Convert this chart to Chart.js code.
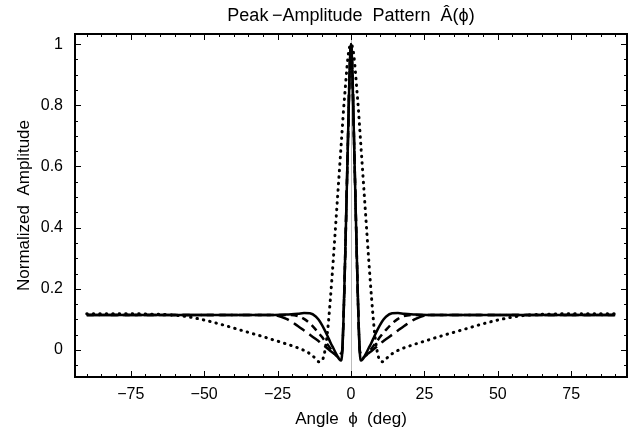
<!DOCTYPE html>
<html>
<head>
<meta charset="utf-8">
<script src="https://cdn.jsdelivr.net/npm/chart.js@4.4.1/dist/chart.umd.min.js"></script>
<style>
  body { margin: 0; background: #fff; }
  #wrap { width: 629px; height: 433px; }
</style>
</head>
<body>
<div id="wrap"><canvas id="chart" width="629" height="433"></canvas></div>
<script>
// angle samples (deg), denser near the main lobe
const angles = [-90, -80, -70, -60, -55, -50, -45, -40, -35, -30, -26, -22, -18, -16, -14, -12,
  -11, -10, -9, -8, -7, -6, -5, -4, -3.5, -3, -2.5, -2, -1.5, -1, -0.5, 0,
  0.5, 1, 1.5, 2, 2.5, 3, 3.5, 4, 5, 6, 7, 8, 9, 10, 11,
  12, 14, 16, 18, 22, 26, 30, 35, 40, 45, 50, 55, 60, 70, 80, 90];

const solidAmp = [0.115, 0.115, 0.115, 0.115, 0.115, 0.115, 0.115, 0.115, 0.115, 0.115, 0.115, 0.116, 0.119, 0.121, 0.120, 0.110,
  0.099, 0.084, 0.066, 0.046, 0.025, 0.006, -0.013, -0.030, -0.034, -0.010, 0.12, 0.30, 0.50, 0.70, 0.90, 1.0,
  0.90, 0.70, 0.50, 0.30, 0.12, -0.010, -0.034, -0.030, -0.013, 0.006, 0.025, 0.046, 0.066, 0.084, 0.099,
  0.110, 0.120, 0.121, 0.119, 0.116, 0.115, 0.115, 0.115, 0.115, 0.115, 0.115, 0.115, 0.115, 0.115, 0.115, 0.115];

const dashAmp = [0.115, 0.115, 0.115, 0.115, 0.115, 0.115, 0.115, 0.115, 0.115, 0.115, 0.115, 0.115, 0.111, 0.102, 0.087, 0.067,
  0.056, 0.044, 0.031, 0.018, 0.005, -0.008, -0.019, -0.025, -0.022, -0.005, 0.12, 0.30, 0.50, 0.70, 0.90, 1.0,
  0.90, 0.70, 0.50, 0.30, 0.12, -0.005, -0.022, -0.025, -0.019, -0.008, 0.005, 0.018, 0.031, 0.044, 0.056,
  0.067, 0.087, 0.102, 0.111, 0.115, 0.115, 0.115, 0.115, 0.115, 0.115, 0.115, 0.115, 0.115, 0.115, 0.115, 0.115];

const longDashAmp = [0.115, 0.115, 0.115, 0.115, 0.115, 0.115, 0.115, 0.115, 0.115, 0.115, 0.114, 0.102, 0.078, 0.064, 0.050, 0.036,
  0.029, 0.021, 0.013, 0.005, -0.003, -0.010, -0.015, -0.016, -0.012, 0.0, 0.12, 0.30, 0.50, 0.70, 0.90, 1.0,
  0.90, 0.70, 0.50, 0.30, 0.12, 0.0, -0.012, -0.016, -0.015, -0.010, -0.003, 0.005, 0.013, 0.021, 0.029,
  0.036, 0.050, 0.064, 0.078, 0.102, 0.114, 0.115, 0.115, 0.115, 0.115, 0.115, 0.115, 0.115, 0.115, 0.115, 0.115];

const dottedAmp = [0.119, 0.119, 0.118, 0.114, 0.108, 0.098, 0.086, 0.072, 0.058, 0.044, 0.032, 0.020, 0.007, -0.001, -0.012, -0.028,
  -0.038, -0.036, -0.008, 0.06, 0.17, 0.30, 0.44, 0.58, 0.65, 0.72, 0.79, 0.85, 0.91, 0.96, 0.99, 1.0,
  0.99, 0.96, 0.91, 0.85, 0.79, 0.72, 0.65, 0.58, 0.44, 0.30, 0.17, 0.06, -0.008, -0.036, -0.038,
  -0.028, -0.012, -0.001, 0.007, 0.020, 0.032, 0.044, 0.058, 0.072, 0.086, 0.098, 0.108, 0.114, 0.118, 0.119, 0.119];

const xTicks = [-75, -50, -25, 0, 25, 50, 75];
const yTicks = [0, 0.2, 0.4, 0.6, 0.8, 1];

const pts = (ys) => angles.map((a, i) => ({ x: a, y: ys[i] }));

const family = "'Liberation Sans', Arial, sans-serif";
const tickFont = { family, size: 16 };
const labelFont = { family, size: 17 };

// Mathematica-style frame with inward ticks, plus the faint x = 0 axis
const framePlugin = {
  id: 'frame',
  beforeDatasetsDraw(chart) {
    const { ctx, chartArea: a, scales: { x } } = chart;
    const px = x.getPixelForValue(0);
    ctx.save();
    ctx.strokeStyle = '#bbb';
    ctx.lineWidth = 1;
    ctx.beginPath();
    ctx.moveTo(px + 0.5, a.top);
    ctx.lineTo(px + 0.5, a.bottom);
    ctx.stroke();
    ctx.restore();
  },
  afterDraw(chart) {
    const { ctx, chartArea: a, scales: { x, y } } = chart;
    ctx.save();
    ctx.strokeStyle = '#000';
    ctx.lineWidth = 1;
    ctx.beginPath();
    for (let v = -90; v <= 90; v += 5) {
      const p = Math.round(x.getPixelForValue(v)) + 0.5;
      const len = v % 25 === 0 ? 6 : 3;
      ctx.moveTo(p, a.bottom); ctx.lineTo(p, a.bottom - len);
      ctx.moveTo(p, a.top); ctx.lineTo(p, a.top + len);
    }
    for (let k = -1; k <= 20; k++) {
      const v = k * 0.05;
      const p = Math.round(y.getPixelForValue(v)) + 0.5;
      const len = k % 4 === 0 ? 6 : 3;
      ctx.moveTo(a.left, p); ctx.lineTo(a.left + len, p);
      ctx.moveTo(a.right, p); ctx.lineTo(a.right - len, p);
    }
    ctx.stroke();
    ctx.lineWidth = 2;
    ctx.strokeRect(a.left, a.top, a.right - a.left, a.bottom - a.top);
    ctx.restore();
  }
};

const line = (label, ys, dash, width, cap) => ({
  label,
  data: pts(ys),
  borderColor: '#000',
  borderWidth: width,
  borderDash: dash,
  borderCapStyle: cap,
  pointRadius: 0,
  fill: false,
  cubicInterpolationMode: 'monotone'
});

new Chart(document.getElementById('chart'), {
  type: 'line',
  data: {
    datasets: [
      line('dotted', dottedAmp, [0.5, 6], 3, 'round'),
      line('long dash', longDashAmp, [13, 6], 2.5, 'butt'),
      line('dash', dashAmp, [7, 5], 2.5, 'butt'),
      line('solid', solidAmp, [], 2.5, 'butt')
    ]
  },
  options: {
    responsive: false,
    animation: false,
    layout: { padding: { right: 2 } },
    plugins: {
      legend: { display: false },
      tooltip: { enabled: false },
      title: {
        display: true,
        fullSize: false,
        text: 'Peak\u2009\u2212Amplitude  Pattern  \u00C2(\u03D5)',
        color: '#000',
        font: { family, size: 18, weight: 'normal' },
        padding: { top: 5, bottom: 7.4 }
      }
    },
    scales: {
      x: {
        type: 'linear',
        min: -94,
        max: 94,
        grid: { display: false, drawTicks: false },
        border: { display: false },
        afterBuildTicks: (s) => { s.ticks = xTicks.map(v => ({ value: v })); },
        afterFit: (s) => { s.height = 56; },
        ticks: {
          color: '#000',
          font: tickFont,
          padding: 8,
          maxRotation: 0,
          callback: (v) => (v < 0 ? '\u2212' + Math.abs(v) : String(v))
        },
        title: {
          display: true,
          text: 'Angle  \u03D5  (deg)',
          color: '#000',
          font: labelFont,
          padding: { top: 0, bottom: 3 }
        }
      },
      y: {
        min: -0.088,
        max: 1.033,
        grid: { display: false, drawTicks: false },
        border: { display: false },
        afterBuildTicks: (s) => { s.ticks = yTicks.map(v => ({ value: v })); },
        afterFit: (s) => { s.width = 75; },
        ticks: {
          color: '#000',
          font: tickFont,
          padding: 12,
          callback: (v) => (v === 0 ? '0' : v === 1 ? '1' : v.toFixed(1))
        },
        title: {
          display: true,
          text: 'Normalized  Amplitude',
          color: '#000',
          font: labelFont,
          padding: { top: 14, bottom: 0 }
        }
      }
    }
  },
  plugins: [framePlugin]
});
</script>
</body>
</html>
